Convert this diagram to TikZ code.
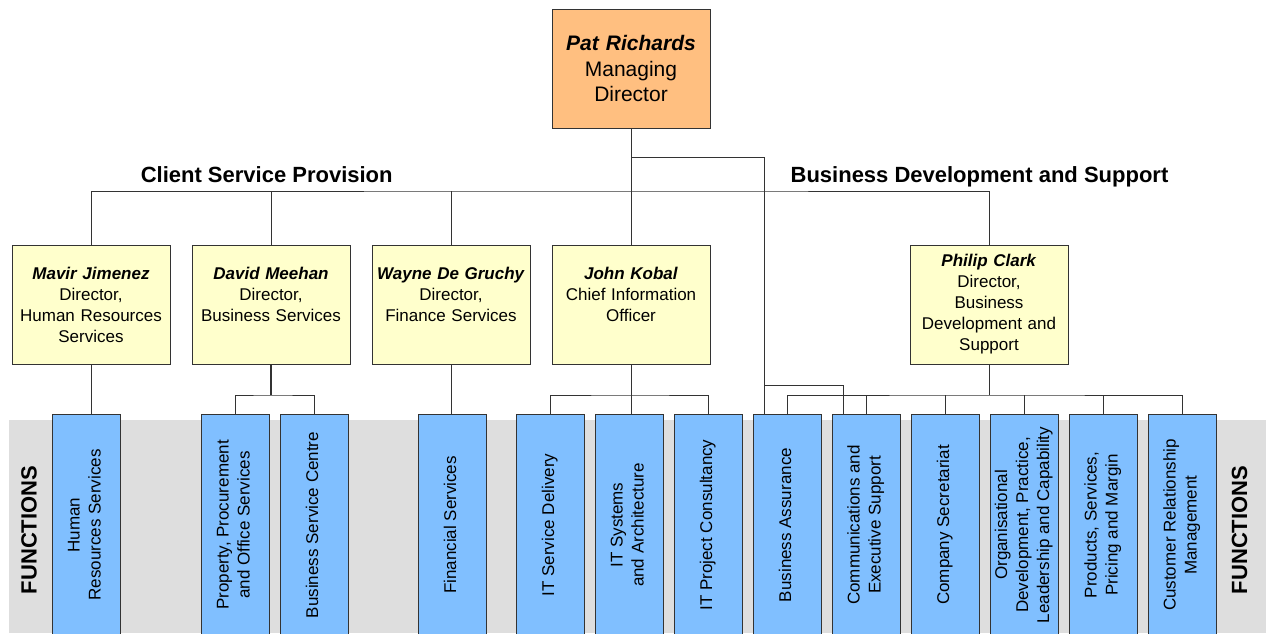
\documentclass[tikz,border=0pt]{standalone}
\usepackage{fontspec}
\setmainfont{Liberation Sans}
\usepackage{graphicx}
\usepackage{tikz}
\usetikzlibrary{positioning,calc,backgrounds}

\definecolor{mdorange}{HTML}{FFBF80}
\definecolor{mgryellow}{HTML}{FFFFCC}
\definecolor{fnblue}{HTML}{80BFFF}
\definecolor{bandgray}{HTML}{DEDEDE}

% sideways, centred block of lines for the function boxes
\newcommand{\vlabel}[1]{\rotatebox{90}{\begin{tabular}{@{}c@{}}#1\end{tabular}}}

\begin{document}
\begin{tikzpicture}[x=1pt, y=1pt, line width=1pt, node distance=22pt,
  mdbox/.style={draw=black!80, fill=mdorange, minimum width=158pt, minimum height=119pt, text width=150pt, inner sep=4pt, outer sep=0pt, align=center, font=\fontsize{21}{25.5}\selectfont},
  mgr/.style={draw=black!80, fill=mgryellow, minimum width=158pt, minimum height=119pt, text width=150pt, inner sep=4pt, outer sep=0pt, align=center, font=\fontsize{17}{21}\selectfont},
  fn/.style={draw=black!80, fill=fnblue, minimum width=68pt, minimum height=222pt, inner sep=0pt, outer sep=0pt, font=\fontsize{17}{21}\selectfont},
  head/.style={font=\fontsize{22}{26}\selectfont\bfseries, anchor=base},
  fnhead/.style={font=\fontsize{22}{26}\selectfont\bfseries, rotate=90},
  link/.style={draw=black!80}]
\useasboundingbox (0,0) rectangle (1269,-633);

% managing director and the directors
\node[mdbox] (pat) at (631,-68.5) {\textbf{\textit{Pat Richards}}\\Managing\\Director};
\node[mgr, below=117pt of pat] (john) {\textbf{\textit{John Kobal}}\\Chief Information\\Officer\\~};
\node[mgr, left=of john] (wayne) {\textbf{\textit{Wayne De Gruchy}}\\Director,\\Finance Services\\~};
\node[mgr, left=of wayne] (david) {\textbf{\textit{David Meehan}}\\Director,\\Business Services\\~};
\node[mgr, left=of david] (mavir) {\textbf{\textit{Mavir Jimenez}}\\Director,\\Human Resources\\Services};
\node[mgr, right=200pt of john] (philip) {\textbf{\textit{Philip Clark}}\\Director,\\Business\\Development and\\Support};

\node[head] (client) at (266.7,-182) {Client Service Provision};
\node[head] (busdev) at (979.5,-182) {Business Development and Support};

% function boxes
\node[fn, below=50pt of mavir, xshift=-5pt] (hr) {\vlabel{Human\\Resources Services}};
\node[fn, right=81pt of hr] (prop) {\vlabel{Property, Procurement\\and Office Services}};
\node[fn, right=11pt of prop] (bsc) {\vlabel{Business Service Centre}};
\node[fn, right=70pt of bsc] (fin) {\vlabel{Financial Services}};
\node[fn, right=30pt of fin] (itsd) {\vlabel{IT Service Delivery}};
\node[fn, right=11pt of itsd] (itsys) {\vlabel{IT Systems\\and Architecture}};
\node[fn, right=11pt of itsys] (itpc) {\vlabel{IT Project Consultancy}};
\node[fn, right=11pt of itpc] (ba) {\vlabel{Business Assurance}};
\node[fn, right=11pt of ba] (comm) {\vlabel{Communications and\\Executive Support}};
\node[fn, right=11pt of comm] (cs) {\vlabel{Company Secretariat}};
\node[fn, right=11pt of cs] (org) {\vlabel{Organisational\\Development, Practice,\\Leadership and Capability}};
\node[fn, right=11pt of org] (prod) {\vlabel{Products, Services,\\Pricing and Margin}};
\node[fn, right=11pt of prod] (crm) {\vlabel{Customer Relationship\\Management}};

\node[fnhead] (fnleft) at (29,-530) {FUNCTIONS};
\node[fnhead] (fnright) at (1239.5,-530) {FUNCTIONS};

% top level links
\coordinate (bus) at ($(pat.south)+(0,-63)$);
\draw[link] (pat) -- (john);
\draw[link] (mavir.north) |- (bus) -| (philip.north);
\draw[link] (david.north) -- (david.north |- bus);
\draw[link] (wayne.north) -- (wayne.north |- bus);
\draw[link] ($(pat.south)+(0,-29)$) -| ($(ba.north)+(-23,0)$);
\draw[link] ($(ba.north)+(-23,29)$) -| ($(comm.north)+(-23,0)$);

% directors to functions
\draw[link] (mavir) -- (mavir |- hr.north);
\draw[link, line width=2pt] (david.south) -- ++(0,-31) coordinate (dbus);
\draw[link] (prop.north) |- (dbus) -| (bsc.north);
\draw[link] (wayne) -- (wayne |- fin.north);
\draw[link] (john.south) -- (john.south |- itsys.north);
\path (john.south) -- ++(0,-31) coordinate (jbus);
\draw[link] (itsd.north) |- (jbus) -| (itpc.north);
\draw[link] (philip.south) -- ++(0,-31) coordinate (pbus);
\draw[link] (ba.north) |- (pbus) -| (crm.north);
\foreach \f in {comm,cs,org,prod}
  \draw[link] (\f.north) -- (\f.north |- pbus);

\begin{scope}[on background layer]
  \fill[bandgray] (9,-420) rectangle (1266,-633);
\end{scope}
\end{tikzpicture}
\end{document}
